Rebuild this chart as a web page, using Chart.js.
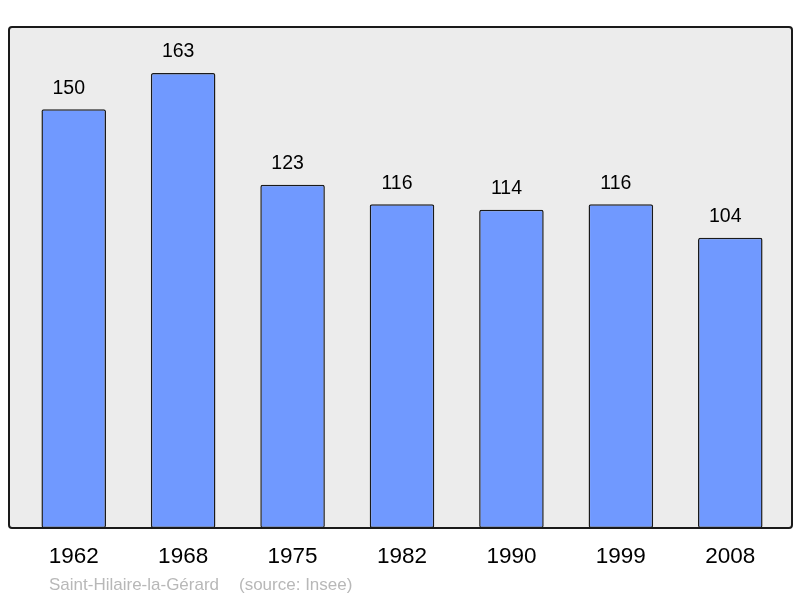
<!DOCTYPE html>
<html>
<head>
<meta charset="utf-8">
<script src="https://cdn.jsdelivr.net/npm/chart.js@4"></script>
<style>
    html, body { margin: 0; padding: 0; background: #ffffff; }
    #wrap { width: 800px; height: 598px; }
</style>
</head>
<body>
<div id="wrap"><canvas id="myChart" width="800" height="598"></canvas></div>
<script>
const years = ['1962', '1968', '1975', '1982', '1990', '1999', '2008'];
const population = [150, 163, 123, 116, 114, 116, 104];
const townName = 'Saint-Hilaire-la-Gérard';
const sourceText = '(source: Insee)';

// grey box behind the bars, a bit wider than the chart area
const frame = { left: 9, top: 27, right: 792, bottom: 528 };

function roundRect(c, x, y, w, h, r) {
    c.beginPath();
    c.moveTo(x + r, y);
    c.lineTo(x + w - r, y);
    c.quadraticCurveTo(x + w, y, x + w, y + r);
    c.lineTo(x + w, y + h - r);
    c.quadraticCurveTo(x + w, y + h, x + w - r, y + h);
    c.lineTo(x + r, y + h);
    c.quadraticCurveTo(x, y + h, x, y + h - r);
    c.lineTo(x, y + r);
    c.quadraticCurveTo(x, y, x + r, y);
    c.closePath();
}

const framePlugin = {
    id: 'framePlugin',
    beforeDatasetsDraw(chart) {
        const c = chart.ctx;
        c.save();
        roundRect(c, frame.left, frame.top, frame.right - frame.left, frame.bottom - frame.top, 3);
        c.fillStyle = '#ececec';
        c.fill();
        c.restore();
    },
    afterDatasetsDraw(chart) {
        const c = chart.ctx;
        c.save();
        roundRect(c, frame.left, frame.top, frame.right - frame.left, frame.bottom - frame.top, 3);
        c.lineWidth = 2;
        c.strokeStyle = '#1a1a1a';
        c.stroke();

        // values above bars (sit a little left of the bar centre in the original)
        const meta = chart.getDatasetMeta(0);
        c.fillStyle = '#000000';
        c.font = '19.5px "Liberation Sans", Arial, sans-serif';
        c.textAlign = 'center';
        c.textBaseline = 'middle';
        meta.data.forEach((bar, i) => {
            c.fillText(String(population[i]), bar.x - 5, bar.y - 21);
        });

        // footer
        c.fillStyle = '#b8b8b8';
        c.font = '17px "Liberation Sans", Arial, sans-serif';
        c.textAlign = 'left';
        c.textBaseline = 'alphabetic';
        c.fillText(townName, 49, 590);
        c.fillText(sourceText, 239, 590);
        c.restore();
    }
};

new Chart(document.getElementById('myChart'), {
    type: 'bar',
    data: {
        labels: years,
        datasets: [{
            data: population,
            backgroundColor: '#7099ff',
            borderColor: '#1a1a1a',
            borderWidth: 1.5,
            borderRadius: 2,
            borderSkipped: false,
            barPercentage: 0.59,
            categoryPercentage: 1
        }]
    },
    options: {
        responsive: false,
        animation: false,
        layout: {
            padding: { left: 19, right: 15, top: 27, bottom: 0 }
        },
        plugins: {
            legend: { display: false },
            tooltip: { enabled: false }
        },
        scales: {
            x: {
                grid: { display: false, drawTicks: false },
                border: { display: false },
                ticks: {
                    color: '#000000',
                    padding: 15,
                    font: { size: 22.5, family: '"Liberation Sans", Arial, sans-serif' }
                },
                afterFit(scale) {
                    scale.height = 70;
                }
            },
            y: {
                display: false,
                min: 0,
                max: 179.5
            }
        }
    },
    plugins: [framePlugin]
});
</script>
</body>
</html>
